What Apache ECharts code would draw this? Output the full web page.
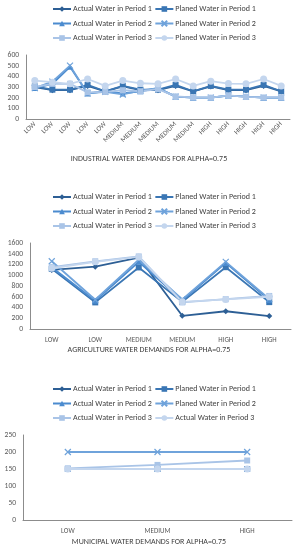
<!DOCTYPE html>
<html><head><meta charset="utf-8">
<script src="https://cdn.jsdelivr.net/npm/echarts@6/dist/echarts.min.js"></script>
<style>html,body{margin:0;padding:0;background:#fff}#c{width:298px;height:550px}</style>
</head><body><div id="c"></div>
<script>
// ---------- data ----------
const indCats = ['LOW','LOW','LOW','LOW','LOW','MEDIUM','MEDIUM','MEDIUM','MEDIUM','MEDIUM','HIGH','HIGH','HIGH','HIGH','HIGH'];
const indActual1  = [300,270,270,310,258,305,270,270,310,258,305,270,270,310,258];
const indPlanned1 = [305,275,275,320,260,310,275,275,320,260,310,275,275,320,260];
const indActual2  = [290,330,490,240,260,240,260,290,210,200,200,220,210,200,200];
const indPlanned2 = [290,350,500,240,255,230,265,290,210,200,200,220,210,200,200];
const indActual3  = [300,330,330,250,255,270,260,280,212,202,200,222,208,202,202];
const indPlanned3 = [360,345,330,375,310,360,335,330,375,310,355,332,330,375,310];

const agrCats = ['LOW','LOW','MEDIUM','MEDIUM','HIGH','HIGH'];
const agrActual1  = [1100,1160,1330,245,330,240];
const agrPlanned1 = [1120,495,1145,505,1150,500];
const agrActual2  = [1150,525,1250,530,1230,540];
const agrPlanned2 = [1260,545,1290,550,1250,560];
const agrActual3  = [1150,1260,1350,495,555,615];
const agrPlanned3 = [1130,1250,1340,505,550,600];

const munCats = ['LOW','MEDIUM','HIGH'];
const munActual1  = [150,150,150];
const munPlanned1 = [150,150,150];
const munActual2  = [150,150,150];
const munPlanned2 = [200,200,200];
const munActual3  = [152,162,175];
const munActual3b = [150,150,150];

const indTitle = 'INDUSTRIAL WATER DEMANDS FOR ALPHA=0.75';
const agrTitle = 'AGRICULTURE WATER DEMANDS FOR ALPHA=0.75';
const munTitle = 'MUNICIPAL WATER DEMANDS FOR ALPHA=0.75';

const N_A1='Actual Water in Period 1', N_P1='Planed Water in Period 1',
      N_A2='Actual Water in Period 2', N_P2='Planed Water in Period 2',
      N_A3='Actual Water in Period 3', N_P3='Planed Water in Period 3',
      N_A3b='Actual Water in Period 3\u200b';

// ---------- styles ----------
const FONT='Carlito, "Liberation Sans", sans-serif';
const XPATH='path://M0,0L10,10M10,0L0,10';
const styles={
  A1:{color:'#2d5f95',symbol:'diamond',size:6},
  P1:{color:'#3a76b4',symbol:'rect',size:6},
  A2:{color:'#4b8bcf',symbol:'triangle',size:6},
  P2:{color:'#6fa3db',symbol:XPATH,size:6},
  A3:{color:'#a9c4e7',symbol:'rect',size:6},
  P3:{color:'#c4d6ee',symbol:'circle',size:7}
};
function mk(name,key,data,idx){
  const s=styles[key];
  const isX=s.symbol===XPATH;
  return {type:'line',name:name,data:data,xAxisIndex:idx,yAxisIndex:idx,
    symbol:s.symbol,symbolSize:s.size,showSymbol:true,animation:false,
    lineStyle:{color:s.color,width:1.8},
    itemStyle:{color:s.color,borderColor:s.color,borderWidth:isX?1.2:0}};
}
const labelColor='#595959';
function xAx(idx,cats,rot){
  return {type:'category',gridIndex:idx,data:cats,boundaryGap:true,
    axisLine:{show:true,lineStyle:{color:'#8c8c8c',width:1}},axisTick:{show:false},
    axisLabel:{color:labelColor,fontFamily:FONT,fontSize:7,rotate:rot,interval:0,margin:rot?4:8},
    splitLine:{show:false}};
}
function yAx(idx,max,step){
  return {type:'value',gridIndex:idx,min:0,max:max,interval:step,
    axisLine:{show:true,lineStyle:{color:'#8c8c8c',width:1}},axisTick:{show:false},
    axisLabel:{color:labelColor,fontFamily:FONT,fontSize:7.5,margin:7,formatter:v=>String(v)},
    splitLine:{show:false}};
}
function leg(top,names){
  return {top:top,left:52,width:240,orient:'horizontal',itemGap:2.5,itemWidth:18,itemHeight:7,padding:0,
    data:names,
    textStyle:{color:'#404040',fontFamily:FONT,fontSize:8,lineHeight:12,padding:[0,0,0,-3]},
    selectedMode:false};
}
function ttl(text,top){
  return {text:text,left:'center',top:top,padding:0,
    textStyle:{color:'#404040',fontFamily:FONT,fontSize:8,fontWeight:'normal'}};
}
const chart=echarts.init(document.getElementById('c'));
chart.setOption({
  animation:false,
  title:[ttl(indTitle,155),ttl(agrTitle,346),ttl(munTitle,538)],
  legend:[
    leg(3,[N_A1,N_P1,N_A2,N_P2,N_A3,N_P3]),
    leg(191,[N_A1,N_P1,N_A2,N_P2,N_A3,N_P3]),
    leg(383,[N_A1,N_P1,N_A2,N_P2,N_A3,N_A3b])
  ],
  grid:[
    {left:26,right:8,top:55,bottom:431},
    {left:30,right:7,top:243,bottom:221},
    {left:23,right:6,top:435,bottom:30}
  ],
  xAxis:[xAx(0,indCats,45),xAx(1,agrCats,0),xAx(2,munCats,0)],
  yAxis:[yAx(0,600,100),yAx(1,1600,200),yAx(2,250,50)],
  series:[
    mk(N_A1,'A1',indActual1,0),mk(N_P1,'P1',indPlanned1,0),mk(N_A2,'A2',indActual2,0),
    mk(N_P2,'P2',indPlanned2,0),mk(N_A3,'A3',indActual3,0),mk(N_P3,'P3',indPlanned3,0),
    mk(N_A1,'A1',agrActual1,1),mk(N_P1,'P1',agrPlanned1,1),mk(N_A2,'A2',agrActual2,1),
    mk(N_P2,'P2',agrPlanned2,1),mk(N_A3,'A3',agrActual3,1),mk(N_P3,'P3',agrPlanned3,1),
    mk(N_A1,'A1',munActual1,2),mk(N_P1,'P1',munPlanned1,2),mk(N_A2,'A2',munActual2,2),
    mk(N_P2,'P2',munPlanned2,2),mk(N_A3,'A3',munActual3,2),mk(N_A3b,'P3',munActual3b,2)
  ]
});
</script></body></html>
